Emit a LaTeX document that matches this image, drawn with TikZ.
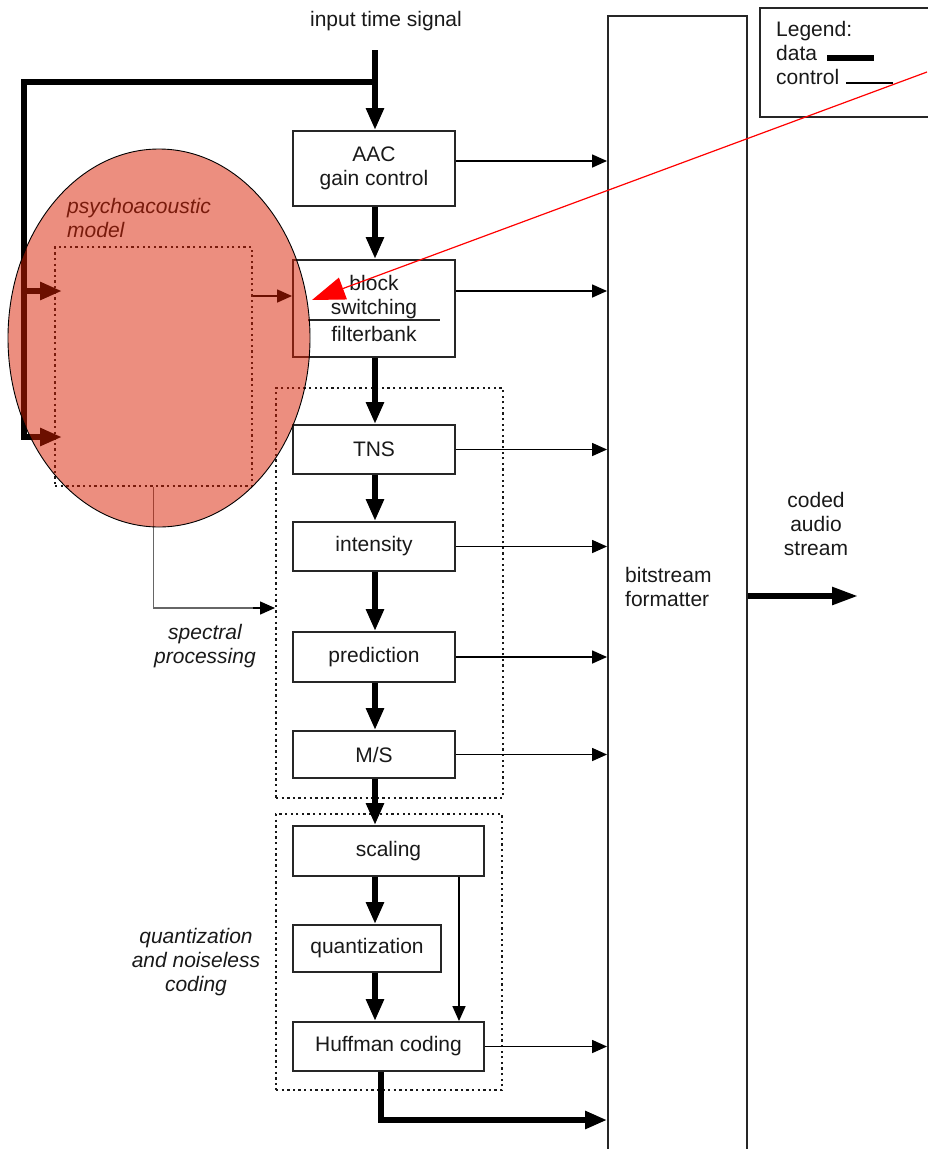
\documentclass[tikz,border=0pt]{standalone}
\usepackage{fontspec}
\setmainfont{Liberation Sans}
\usetikzlibrary{arrows.meta}
\begin{document}
\begin{tikzpicture}[x=1pt,y=-1pt,
  every node/.style={font=\fontsize{21}{24}\selectfont, inner sep=0pt, text=black!90},
  procbox/.style={draw=black!85, line width=1.9pt, align=center},
  dotbox/.style={draw=black!90, line width=2.3pt, dash pattern=on 2.3pt off 3.3pt},
  dataflow/.style={line width=5.5pt, line join=miter, -{Triangle[length=22pt,width=17pt]}},
  ctrlflow/.style={line width=1.5pt, -{Triangle[length=15pt,width=13pt]}},
  caption/.style={font=\fontsize{21}{24}\selectfont\itshape, align=center}
]
\useasboundingbox (0,0) rectangle (927,1149);

% encoder blocks
\node[procbox, minimum width=162pt, minimum height=75pt] (aac) at (374,168.5) {AAC\\gain control};
\node[procbox, minimum width=162pt, minimum height=97pt] (blk) at (374,308.5) {block\\switching\\[3pt]filterbank};
\node[procbox, minimum width=162pt, minimum height=49pt] (tns) at (374,449.5) {TNS};
\node[procbox, minimum width=162pt, minimum height=49pt] (ints) at (374,546.5) {intensity};
\node[procbox, minimum width=162pt, minimum height=50pt] (pred) at (374,657) {prediction};
\node[procbox, minimum width=162pt, minimum height=47pt] (ms) at (374,754.5) {M/S};
\node[procbox, minimum width=191pt, minimum height=50pt] (scal) at (388.5,851) {scaling};
\node[procbox, minimum width=148pt, minimum height=47pt] (quant) at (367,948.5) {quantization};
\node[procbox, minimum width=191pt, minimum height=49pt] (huff) at (388.5,1046.5) {Huffman coding};

% separator inside the block switching box
\draw[line width=1.4pt, black!85] (blk.west) ++(16,11.5) -- ++(132,0);

% dotted group frames
\node[dotbox, minimum width=197pt, minimum height=239pt] (pm) at (153.5,366.5) {};
\node[dotbox, minimum width=227pt, minimum height=410pt] (sp) at (389.5,593) {};
\node[dotbox, minimum width=226pt, minimum height=276pt] (qn) at (389,952) {};

% bitstream formatter and legend
\node[draw=black!85, line width=1.9pt, minimum width=139pt, minimum height=1160pt] (bs) at (677.5,596) {};
\node[anchor=west, align=left] (bstxt) at (625,587) {bitstream\\formatter};
\node[draw=black!85, line width=1.9pt, minimum width=180pt, minimum height=109pt] (leg) at (850,62.5) {};
\node[anchor=north west, align=left] (legtxt) at (776,21) {Legend:\\data\\control};
\coordinate (ld1) at (827,58);
\coordinate (ld2) at (874,58);
\coordinate (lc1) at (846,83);
\coordinate (lc2) at (893,83);
\draw[line width=6pt] (ld1) -- (ld2);
\draw[line width=1.2pt] (lc1) -- (lc2);

% texts
\node (inp) at (386,21) {input time signal};
\node[align=center] (out) at (816,524) {coded\\audio\\stream};
\node[caption, anchor=north west, align=left] (pmtxt) at (67,198) {psychoacoustic\\model};
\node[caption] (sptxt) at (205,646) {spectral\\processing};
\node[caption] (qntxt) at (196,962) {quantization\\and noiseless\\coding};

% input signal and its branch to the psychoacoustic model
\coordinate (itop) at (375,50);
\coordinate (split) at (375,82);
\coordinate (lcorner) at (24,82);
\coordinate (lmid) at (24,291);
\coordinate (lbot) at (24,437);
\coordinate (pin1) at (62,291);
\coordinate (pin2) at (62,437);
\draw[dataflow] (itop) -- (aac.north -| itop);
\draw[dataflow] (split) -- (lcorner) -- (lbot) -- (pin2);
\draw[dataflow] (lmid) -- (pin1);

% data path
\coordinate (col) at (375,0);
\draw[dataflow] (aac.south -| col) -- (blk.north -| col);
\draw[dataflow] (blk.south -| col) -- (tns.north -| col);
\draw[dataflow] (tns.south -| col) -- (ints.north -| col);
\draw[dataflow] (ints.south -| col) -- (pred.north -| col);
\draw[dataflow] (pred.south -| col) -- (ms.north -| col);
\draw[dataflow] (ms.south -| col) -- (scal.north -| col);
\draw[dataflow] (scal.south -| col) -- (quant.north -| col);
\draw[dataflow] (quant.south -| col) -- (huff.north -| col);
\coordinate (hx) at (381,0);
\coordinate (hbend) at (381,1120);
\draw[dataflow] (huff.south -| hx) -- (hbend) -- (hbend -| bs.west);
\coordinate (outend) at (858,596);
\draw[line width=5.5pt, -{Triangle[length=26pt,width=17pt]}] (bs.east) -- (outend);

% control paths
\coordinate (aacy) at (0,161);
\coordinate (blky) at (0,291);
\draw[ctrlflow] (aac.east |- aacy) -- (bs.west |- aacy);
\draw[ctrlflow] (blk.east |- blky) -- (bs.west |- blky);
\draw[ctrlflow] (tns.east) -- (tns.east -| bs.west);
\draw[ctrlflow] (ints.east) -- (ints.east -| bs.west);
\draw[ctrlflow] (pred.east) -- (pred.east -| bs.west);
\draw[ctrlflow] (ms.east) -- (ms.east -| bs.west);
\draw[ctrlflow] (huff.east) -- (huff.east -| bs.west);
\coordinate (sx) at (459,0);
\draw[ctrlflow] (scal.south -| sx) -- (huff.north -| sx);
\coordinate (pmy) at (0,296);
\draw[ctrlflow] (pm.east |- pmy) -- (blk.west |- pmy);
\coordinate (spin) at (275,608);
\draw[line width=1.5pt, black!60] (pm.south) -- (pm.south |- spin) -- ++(100,0);
\draw[ctrlflow] (pm.south |- spin) ++(99,0) -- (spin);

% translucent highlight over the psychoacoustic model
\draw[line width=0.9pt, fill={rgb,255:red,217;green,30;blue,0}, fill opacity=0.5] (159,338) ellipse [x radius=151, y radius=189];

% red pointer towards the block switching input
\coordinate (rstart) at (927,72);
\coordinate (rtip) at (312,300);
\draw[red, line width=1.2pt, -{Triangle[length=33pt,width=23pt]}] (rstart) -- (rtip);
\end{tikzpicture}
\end{document}
